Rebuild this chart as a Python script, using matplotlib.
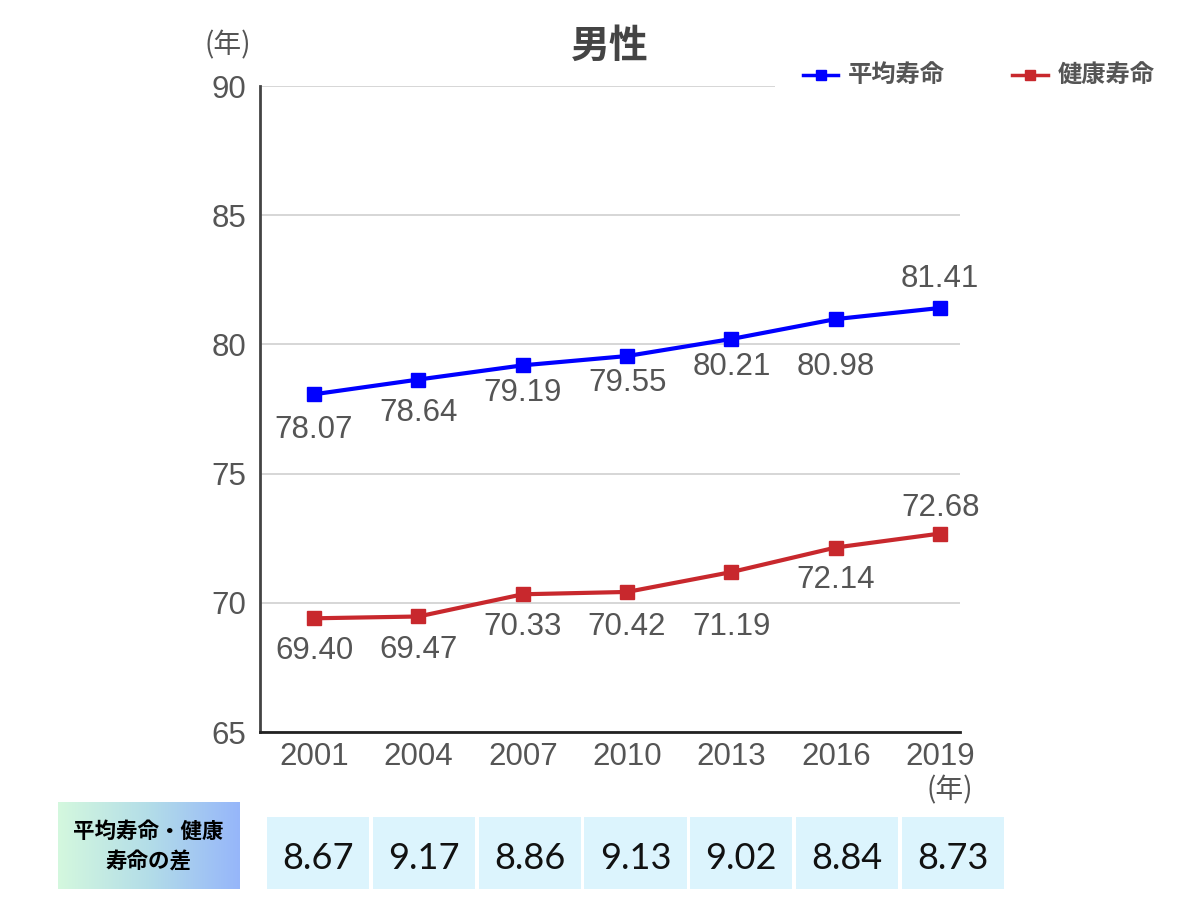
import numpy as np
import matplotlib
matplotlib.use("Agg")
import matplotlib.pyplot as plt
from matplotlib.lines import Line2D
from matplotlib.patches import Rectangle
from matplotlib.colors import LinearSegmentedColormap

plt.rcParams['font.family'] = ['Liberation Sans', 'Noto Sans CJK JP', 'DejaVu Sans']

years = ['2001', '2004', '2007', '2010', '2013', '2016', '2019']
avg_life = [78.07, 78.64, 79.19, 79.55, 80.21, 80.98, 81.41]
healthy_life = [69.40, 69.47, 70.33, 70.42, 71.19, 72.14, 72.68]
gap = ['8.67', '9.17', '8.86', '9.13', '9.02', '8.84', '8.73']

# label offsets (pixels, negative = below the point)
dy_avg = [-36, -33, -28, -27, -28, -48, 29]
dy_healthy = [-33, -34, -33, -35, -55, -32, 26]

BLUE = '#0000ff'
RED = '#c8282d'
GRAY = '#555555'

fig = plt.figure(figsize=(12, 9), dpi=100)
W, H = 1200, 900


def fbox(x0, y0, x1, y1):
    # pixel box (top-left origin) -> figure fraction rect
    return [x0 / W, 1 - y1 / H, (x1 - x0) / W, (y1 - y0) / H]


ax = fig.add_axes(fbox(260, 86, 960, 732))
x = np.arange(len(years))

ax.plot(x, avg_life, color=BLUE, lw=3, marker='s', ms=10, zorder=3)
ax.plot(x, healthy_life, color=RED, lw=3, marker='s', ms=10, zorder=3)

for xi, v, d in zip(x, avg_life, dy_avg):
    ax.annotate(f'{v:.2f}', (xi, v), xytext=(0, d * 0.72), textcoords='offset points',
                ha='center', va='center', fontsize=22.5, color=GRAY)
for xi, v, d in zip(x, healthy_life, dy_healthy):
    ax.annotate(f'{v:.2f}', (xi, v), xytext=(0, d * 0.72), textcoords='offset points',
                ha='center', va='center', fontsize=22.5, color=GRAY)

ax.set_xlim(-0.518, 6.19)
ax.set_ylim(65, 90)
ax.set_yticks([65, 70, 75, 80, 85, 90])
ax.set_xticks(x)
ax.set_xticklabels(years)
ax.tick_params(axis='both', length=0, labelsize=22.5, labelcolor=GRAY)
ax.tick_params(axis='y', pad=10)
ax.tick_params(axis='x', pad=7)
ax.grid(axis='y', color='#d0d0d0', lw=1.2)
ax.set_axisbelow(True)
for s in ['top', 'right']:
    ax.spines[s].set_visible(False)
ax.spines['left'].set_color('#444444')
ax.spines['left'].set_linewidth(2)
ax.spines['bottom'].set_color('#222222')
ax.spines['bottom'].set_linewidth(2)

fig.text(610 / W, 1 - 46 / H, '男性', ha='center', va='center', fontsize=28,
         color='#444444', fontweight='bold', family=['Noto Sans CJK JP'])
fig.text(228 / W, 1 - 45 / H, '(年)', ha='center', va='center', fontsize=20,
         color=GRAY, family=['Noto Sans CJK JP'])
fig.text(950 / W, 1 - 790 / H, '(年)', ha='center', va='center', fontsize=20,
         color=GRAY, family=['Noto Sans CJK JP'])

# legend
fig.add_artist(Rectangle((775 / W, 1 - 100 / H), 390 / W, 40 / H, facecolor='white',
                         edgecolor='none', transform=fig.transFigure, zorder=5))
for (x0, x1, tx, col, lab) in [(803, 838, 848, BLUE, '平均寿命'), (1012, 1048, 1058, RED, '健康寿命')]:
    fig.add_artist(Line2D([x0 / W, x1 / W], [1 - 75 / H] * 2, color=col, lw=2.5,
                          transform=fig.transFigure, zorder=6))
    fig.add_artist(Line2D([(x0 + x1) / 2 / W], [1 - 75 / H], color=col, marker='s', ms=7,
                          transform=fig.transFigure, zorder=6))
    fig.text(tx / W, 1 - 75 / H, lab, ha='left', va='center', fontsize=17.5, color=GRAY,
             fontweight='bold', family=['Noto Sans CJK JP'], zorder=6)

# header box with gradient
hax = fig.add_axes(fbox(58, 802, 239, 889))
cmap = LinearSegmentedColormap.from_list('hdr', ['#d4f8de', '#b3dde8', '#96b6fa'])
hax.imshow(np.linspace(0, 1, 256)[None, :], aspect='auto', cmap=cmap, extent=[0, 1, 0, 1])
hax.set_xlim(0, 1)
hax.set_ylim(0, 1)
hax.axis('off')
hax.text(0.5, 0.66, '平均寿命・健康', ha='center', va='center', fontsize=15.5,
         fontweight='bold', color='black', family=['Noto Sans CJK JP'])
hax.text(0.5, 0.31, '寿命の差', ha='center', va='center', fontsize=15.5,
         fontweight='bold', color='black', family=['Noto Sans CJK JP'])

# difference cells
tax = fig.add_axes(fbox(265.5, 817, 1005.5, 889))
tax.bar(np.arange(len(gap)), [1] * len(gap), width=0.965, color='#dcf4fd')
for i, g in enumerate(gap):
    tax.text(i, 0.42, g, ha='center', va='center', fontsize=26, color='#111111',
             family=['Lato'], fontweight='normal')
tax.set_xlim(-0.5, len(gap) - 0.5)
tax.set_ylim(0, 1)
tax.axis('off')

fig.savefig('out.png', dpi=100)
